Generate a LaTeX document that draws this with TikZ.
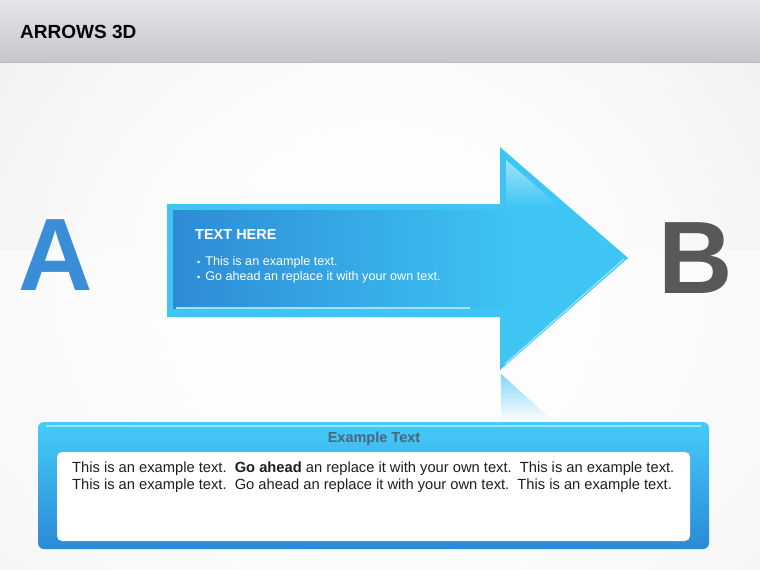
\documentclass[tikz,border=0pt]{standalone}
\usepackage{fontspec}
\setmainfont{Liberation Sans}
\usetikzlibrary{fadings}
\definecolor{headtop}{HTML}{E4E5E9}
\definecolor{headbot}{HTML}{C7C6CB}
\definecolor{bgedge}{HTML}{E4E4E7}
\definecolor{floor}{HTML}{F1F1F3}
\definecolor{arrowcyan}{HTML}{3EC5F4}
\definecolor{arrowlight}{HTML}{9FE4FA}
\definecolor{innerblue}{HTML}{2E8BD6}
\definecolor{letterblue}{HTML}{3A8ED8}
\definecolor{lettergray}{HTML}{58585B}
\definecolor{paneltop}{HTML}{45CCF8}
\definecolor{panelbot}{HTML}{2A8AD5}
\definecolor{paneltitle}{HTML}{4A6580}
\definecolor{bodytext}{HTML}{1E1E1E}
\tikzfading[name=glow, inner color=transparent!0, outer color=transparent!100]
\tikzfading[name=fadedown, top color=transparent!35, bottom color=transparent!100]
\tikzset{
  bigletter/.style = {font=\fontsize{103}{103}\selectfont\bfseries, inner sep=0},
  whitetext/.style = {text=white, inner sep=0, align=left}
}
\newcommand{\blt}{{\fontsize{9}{9}\selectfont\textbullet}\hspace{5pt}}
\begin{document}
\begin{tikzpicture}[x=1pt, y=-1pt]
  \useasboundingbox (0,0) rectangle (760,570);
  % background
  \fill[bgedge] (0,62) rectangle (760,250);
  \fill[floor] (0,250) rectangle (760,570);
  \fill[white, path fading=glow] (380,280) ellipse [x radius=760, y radius=640];
  \fill[white, path fading=glow] (380,280) ellipse [x radius=560, y radius=560];
  % header bar
  \shade[top color=headtop, bottom color=headbot] (0,0) rectangle (760,62);
  \draw[headbot!95!black, line width=1] (0,62) -- (760,62);
  \node[anchor=base west, inner sep=0, font=\fontsize{19}{19}\selectfont\bfseries] (title) at (20,38) {ARROWS 3D};
  % letters
  \node[bigletter, text=letterblue, anchor=base west] (letterA) at (18,290) {A};
  \node[bigletter, text=lettergray, anchor=base west] (letterB) at (658,293) {B};
  % reflection of the arrow head
  \fill[arrowcyan, path fading=fadedown] (501,374) -- (552,420) -- (501,420) -- cycle;
  % the arrow
  \fill[arrowcyan] (167,204) -- (500,204) -- (500,147) -- (628,258) -- (500,370) -- (500,317) -- (167,317) -- cycle;
  \shade[top color=arrowlight, bottom color=arrowcyan] (506,160) -- (560,207) -- (506,207) -- cycle;
  \draw[arrowlight, line width=1.2] (505,364) -- (624,259);
  \shade[left color=innerblue, right color=arrowcyan] (173,210) rectangle (520,308);
  \draw[arrowlight, line width=1.2] (176,308) -- (470,308);
  \node[whitetext, anchor=base west, font=\fontsize{14.5}{14.5}\selectfont\bfseries] (arrowtitle) at (195,239) {TEXT HERE};
  \node[whitetext, anchor=north west, font=\fontsize{12.6}{15}\selectfont] (arrowtext) at (197,256)
    {\blt This is an example text.\\
     \blt Go ahead an replace it with your own text.};
  % bottom panel
  \shade[top color=paneltop, bottom color=panelbot, rounded corners=6] (38,422) rectangle (709,549);
  \draw[arrowlight, line width=1.5] (46,426) -- (701,426);
  \node[font=\fontsize{14.5}{14.5}\selectfont\bfseries, text=paneltitle, inner sep=0] (boxtitle) at (374,439) {Example Text};
  \fill[white, rounded corners=5] (57,452) rectangle (690,541);
  \node[anchor=north west, align=left, inner sep=0, text=bodytext, font=\fontsize{14.7}{17}\selectfont] (boxtext) at (72,462)
    {This is an example text.\ \ \textbf{Go ahead} an replace it with your own text.\ \ This is an example text.\\
     This is an example text.\ \ Go ahead an replace it with your own text.\ \ This is an example text.};
\end{tikzpicture}
\end{document}
